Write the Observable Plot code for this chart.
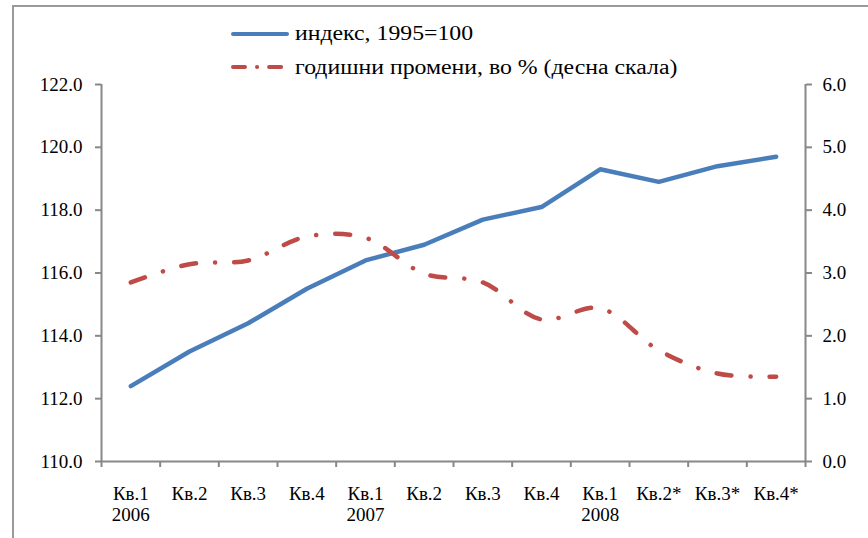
<!DOCTYPE html>
<html>
<head>
<meta charset="utf-8">
<script src="https://cdn.jsdelivr.net/npm/d3@7"></script>
<script src="https://cdn.jsdelivr.net/npm/@observablehq/plot@0.6"></script>
<style>
  html, body { margin: 0; padding: 0; background: #fff; }
  #wrap { position: relative; width: 868px; height: 538px; overflow: hidden; font-family: "Liberation Serif", "Times New Roman", serif; }
  #frame { position: absolute; left: 12px; top: 5px; width: 900px; height: 600px; border-left: 2px solid #9a9a9a; border-top: 2px solid #9a9a9a; }
  #legend { position: absolute; left: 231px; top: 17px; font-size: 20.5px; color: #000; }
  .item { display: flex; align-items: center; height: 33.6px; white-space: nowrap; }
  .item svg { margin-right: 6px; flex: none; }
  .item span { display: inline-block; transform: scaleX(1.16); transform-origin: left center; }
  #chart { position: absolute; left: 0; top: 0; }
</style>
</head>
<body>
<div id="wrap">
  <div id="frame"></div>
  <div id="chart"></div>
  <div id="legend"></div>
</div>
<script>
const categories = ["Кв.1\n2006","Кв.2","Кв.3","Кв.4","Кв.1\n2007","Кв.2","Кв.3","Кв.4","Кв.1\n2008","Кв.2*","Кв.3*","Кв.4*"];
const indexValues = [112.4, 113.5, 114.4, 115.5, 116.4, 116.9, 117.7, 118.1, 119.3, 118.9, 119.4, 119.7];
const changeValues = [2.85, 3.14, 3.20, 3.58, 3.56, 2.99, 2.85, 2.26, 2.44, 1.77, 1.40, 1.35];
const leftTicks = [110, 112, 114, 116, 118, 120, 122];
const rightTicks = [0, 1, 2, 3, 4, 5, 6];
const seriesNames = ["индекс, 1995=100", "годишни промени, во % (десна скала)"];

const blue = "#4a7ebb";
const red = "#be4b48";
const axisColor = "#888888";

// right scale (0..6) mapped onto left scale (110..122)
const toLeft = v => 110 + v * 2;

const indexData = categories.map((c, i) => ({i: i + 0.5, v: indexValues[i]}));
const changeData = categories.map((c, i) => ({i: i + 0.5, v: toLeft(changeValues[i])}));

const chart = Plot.plot({
  width: 868,
  height: 538,
  marginLeft: 101,
  marginRight: 63,
  marginTop: 84,
  marginBottom: 77,
  style: {fontFamily: "'Liberation Serif', 'Times New Roman', serif", fontSize: "19px", color: "#000", background: "transparent"},
  x: {type: "linear", domain: [0, 12]},
  y: {domain: [110, 122]},
  marks: [
    Plot.ruleX([0, 12], {stroke: axisColor, strokeWidth: 2}),
    Plot.ruleY([110], {stroke: axisColor, strokeWidth: 2}),
    Plot.axisY({anchor: "left", ticks: leftTicks, tickFormat: d => d.toFixed(1), tickSize: 6, tickPadding: 13, stroke: axisColor, strokeWidth: 2, label: null, fill: "#000"}),
    Plot.axisY({anchor: "right", ticks: rightTicks.map(toLeft), tickFormat: d => ((d - 110) / 2).toFixed(1), tickSize: 6, tickPadding: 11, stroke: axisColor, strokeWidth: 2, label: null, fill: "#000"}),
    Plot.axisX({ticks: d3.range(13), tickFormat: () => "", tickSize: 6, stroke: axisColor, strokeWidth: 2, label: null}),
    Plot.axisX({ticks: d3.range(12).map(i => i + 0.5), tickFormat: d => categories[Math.floor(d)], tickSize: 0, tickPadding: 24, label: null, fill: "#000", lineHeight: 1.08}),
    Plot.line(indexData, {x: "i", y: "v", stroke: blue, strokeWidth: 4.5, strokeLinecap: "round", strokeLinejoin: "round"}),
    Plot.line(changeData, {x: "i", y: "v", stroke: red, strokeWidth: 4.5, curve: "catmull-rom", strokeLinecap: "round", strokeDasharray: "15,19,0.1,19"})
  ]
});
document.getElementById("chart").appendChild(chart);

const legend = document.getElementById("legend");
const styles = [{stroke: blue, dash: null}, {stroke: red, dash: "12,12,0.1,12"}];
seriesNames.forEach((name, k) => {
  const row = document.createElement("div");
  row.className = "item";
  const s = styles[k];
  row.innerHTML = `<svg width="58" height="10"><line x1="2" y1="5" x2="56" y2="5" stroke="${s.stroke}" stroke-width="4" stroke-linecap="round" ${s.dash ? `stroke-dasharray="${s.dash}"` : ""}/></svg><span>${name}</span>`;
  legend.appendChild(row);
});
</script>
</body>
</html>
